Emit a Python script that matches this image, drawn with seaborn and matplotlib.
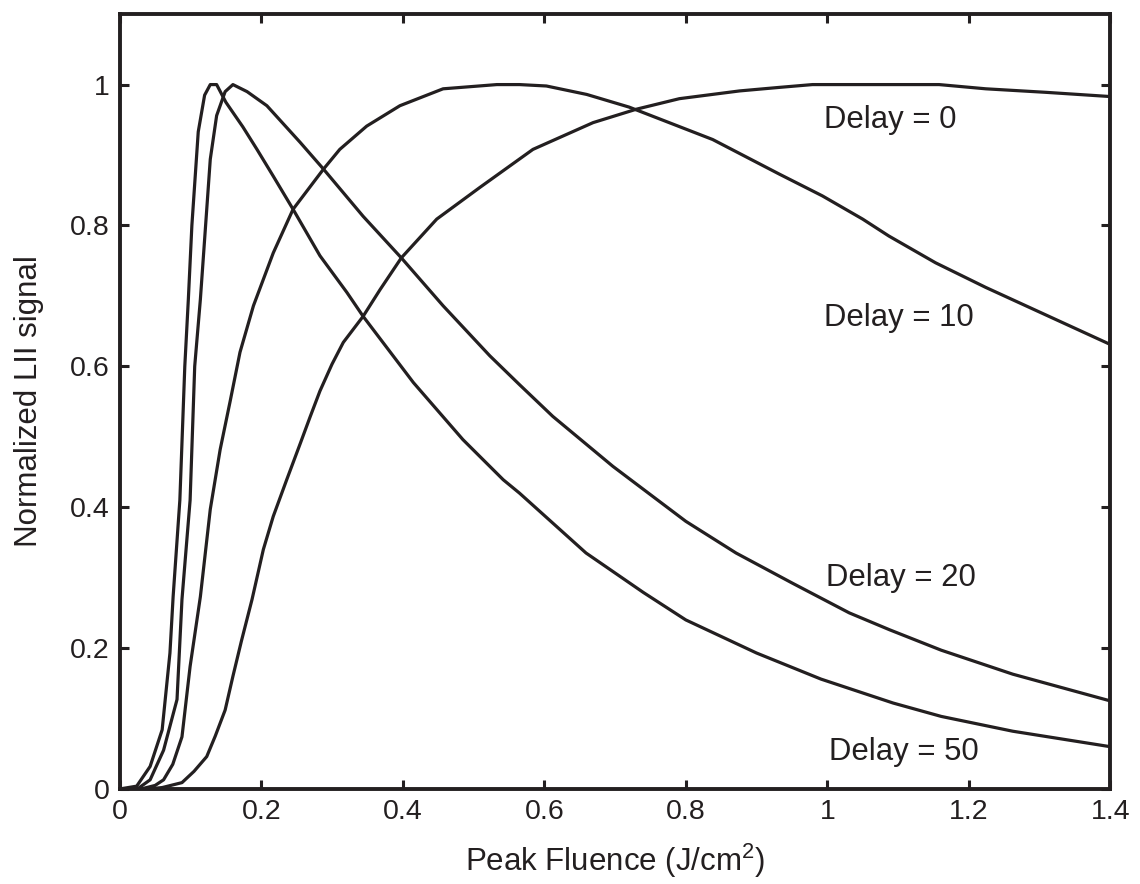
import numpy as np
import pandas as pd
import matplotlib
matplotlib.use("Agg")
import matplotlib.pyplot as plt
import seaborn as sns

# ---- data ----
x_d50 = [0, 0.024, 0.043, 0.06, 0.071, 0.0755, 0.085, 0.092, 0.097, 0.102, 0.111, 0.12,
         0.128, 0.137, 0.15, 0.174, 0.194, 0.217, 0.245, 0.283, 0.321, 0.344, 0.415,
         0.485, 0.542, 0.565, 0.659, 0.74, 0.8, 0.9, 0.991, 1.093, 1.161, 1.262, 1.4]
y_d50 = [0, 0.004, 0.032, 0.084, 0.193, 0.273, 0.41, 0.6, 0.695, 0.8, 0.933, 0.985,
         1.0, 1.0, 0.975, 0.94, 0.908, 0.870, 0.823, 0.757, 0.705, 0.671, 0.577,
         0.496, 0.439, 0.42, 0.335, 0.279, 0.24, 0.193, 0.156, 0.122, 0.103, 0.082, 0.06]

x_d20 = [0, 0.025, 0.043, 0.062, 0.081, 0.088, 0.0995, 0.106, 0.114, 0.128, 0.137, 0.149,
         0.16, 0.18, 0.208, 0.255, 0.288, 0.344, 0.398, 0.457, 0.523, 0.565, 0.612,
         0.697, 0.8, 0.871, 0.951, 1.031, 1.088, 1.161, 1.262, 1.4]
y_d20 = [0, 0.0, 0.013, 0.055, 0.127, 0.269, 0.41, 0.6, 0.695, 0.894, 0.956, 0.99,
         1.0, 0.99, 0.97, 0.918, 0.88, 0.813, 0.754, 0.686, 0.615, 0.574, 0.529,
         0.458, 0.38, 0.335, 0.292, 0.25, 0.226, 0.197, 0.163, 0.125]

x_d10 = [0, 0.03, 0.05, 0.062, 0.075, 0.088, 0.0995, 0.114, 0.128, 0.142, 0.156, 0.17,
         0.189, 0.217, 0.245, 0.288, 0.311, 0.349, 0.396, 0.457, 0.533, 0.565, 0.603,
         0.66, 0.72, 0.838, 0.932, 0.993, 1.05, 1.087, 1.153, 1.224, 1.4]
y_d10 = [0, 0.0, 0.005, 0.013, 0.035, 0.074, 0.174, 0.273, 0.397, 0.482, 0.55, 0.62,
         0.686, 0.761, 0.823, 0.88, 0.908, 0.941, 0.97, 0.994, 1.0, 1.0, 0.998,
         0.986, 0.968, 0.922, 0.873, 0.842, 0.809, 0.785, 0.747, 0.712, 0.631]

x_d0 = [0, 0.04, 0.06, 0.088, 0.105, 0.123, 0.135, 0.149, 0.16, 0.172, 0.187, 0.203,
        0.217, 0.236, 0.255, 0.269, 0.283, 0.3, 0.316, 0.344, 0.368, 0.398, 0.448, 0.509,
        0.584, 0.669, 0.73, 0.791, 0.876, 0.932, 0.979, 1.158, 1.224, 1.309, 1.4]
y_d0 = [0, 0.0, 0.002, 0.009, 0.025, 0.046, 0.075, 0.112, 0.16, 0.21, 0.269, 0.34,
        0.387, 0.439, 0.49, 0.528, 0.565, 0.603, 0.634, 0.671, 0.709, 0.754, 0.809, 0.854,
        0.908, 0.946, 0.965, 0.98, 0.991, 0.996, 1.0, 1.0, 0.994, 0.989, 0.983]

labels = ["Delay = 0", "Delay = 10", "Delay = 20", "Delay = 50"]
label_x = [0.996, 0.996, 0.9985, 1.002]
label_y = [0.939, 0.657, 0.2885, 0.0418]

x_ticks = [0, 0.2, 0.4, 0.6, 0.8, 1.0, 1.2, 1.4]
x_ticklabels = ["0", "0.2", "0.4", "0.6", "0.8", "1", "1.2", "1.4"]
y_ticks = [0, 0.2, 0.4, 0.6, 0.8, 1.0]
y_ticklabels = ["0", "0.2", "0.4", "0.6", "0.8", "1"]

# ---- build table ----
frames = []
for name, xs, ys in [("Delay = 0", x_d0, y_d0), ("Delay = 10", x_d10, y_d10),
                     ("Delay = 20", x_d20, y_d20), ("Delay = 50", x_d50, y_d50)]:
    frames.append(pd.DataFrame({"x": xs, "y": ys, "series": name,
                                "order": np.arange(len(xs))}))
df = pd.concat(frames, ignore_index=True)

sns.set_style("ticks")
plt.rcParams["font.family"] = ["Liberation Sans", "DejaVu Sans"]
plt.rcParams["mathtext.default"] = "regular"

ink = "#231f20"
fig = plt.figure(figsize=(11.4, 8.84), dpi=100)
ax = fig.add_axes([0.105, 0.1075, 0.869, 0.8765])

sns.lineplot(data=df, x="x", y="y", hue="series", units="series", estimator=None,
             sort=False, palette=[ink] * 4, linewidth=2.3, legend=False, ax=ax)

ax.set_xlim(0, 1.4)
ax.set_ylim(0, 1.1)
ax.set_xticks(x_ticks)
ax.set_xticklabels(x_ticklabels)
ax.set_yticks(y_ticks)
ax.set_yticklabels(y_ticklabels)
ax.tick_params(direction="in", length=6.5, width=2.2, labelsize=20.5, colors=ink,
               top=True, right=True, pad=7)
for s in ax.spines.values():
    s.set_visible(True)
    s.set_linewidth(2.8)
    s.set_color(ink)

ax.set_xlabel(r"Peak Fluence (J/cm$^2$)", fontsize=22.5, color=ink, labelpad=12)
ax.set_ylabel("Normalized LII signal", fontsize=22.5, color=ink, labelpad=19)

for t, lx, ly in zip(labels, label_x, label_y):
    ax.text(lx, ly, t, fontsize=22.4, color=ink, ha="left", va="baseline")

fig.savefig("out.png", dpi=100, facecolor="white")
